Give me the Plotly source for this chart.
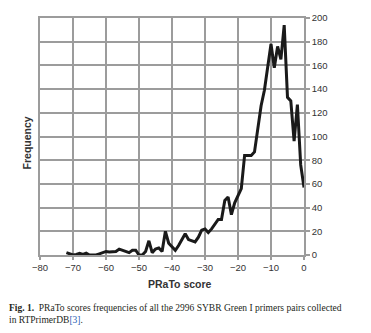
import plotly.graph_objects as go

scores = list(range(-72, 1))
frequency = [2, 1, 0, 0.5, 1.5, 0.5, 1.5, 0, 0, 0,
             1, 2, 3, 2.5, 2.5, 3, 5, 4, 2.5, 2,
             4, 4, 0, 0, 3, 12, 2, 5, 6, 3,
             20, 10, 7, 4, 8, 13, 18, 13, 12, 11,
             15, 21, 22, 19, 22, 26, 30, 30, 46, 49,
             34, 44, 50, 56, 84, 84, 84, 87, 108, 126,
             139, 160, 178, 158, 176, 165, 194, 133, 130, 96,
             127, 76, 57]
x_ticks = list(range(-80, 1, 10))
y_ticks = list(range(0, 201, 20))

W, H = 371, 333
L, R, T, B = 40, 67, 15, 78
pw, ph = W - L - R, H - T - B

def px(x):
    return (x - L) / pw

def py(y):
    return 1 - (y - T) / ph

grid = "#9c9c9c"

fig = go.Figure()
fig.add_trace(go.Scatter(x=scores, y=frequency, mode="lines",
                         line=dict(color="#1a1a1a", width=3), showlegend=False))

fig.update_layout(
    width=W, height=H,
    margin=dict(l=L, r=R, t=T, b=B),
    paper_bgcolor="white", plot_bgcolor="white",
    font=dict(family="Liberation Sans, Arial, sans-serif", size=9.5, color="#333333"),
    xaxis=dict(range=[-80, 0], tickvals=x_ticks, showgrid=True, gridcolor=grid, gridwidth=1.5,
               zeroline=False, showline=True, linecolor=grid, linewidth=1.5, mirror=True,
               ticks="outside", ticklen=3, tickcolor=grid, tickwidth=1.5,
               fixedrange=True),
    yaxis=dict(range=[0, 200], tickvals=y_ticks, side="right", showgrid=True, gridcolor=grid,
               gridwidth=1.5, zeroline=False, showline=True, linecolor=grid, linewidth=1.5, mirror=True,
               ticks="outside", ticklen=4, tickcolor=grid, tickwidth=1.5, fixedrange=True),
)

fig.add_annotation(text="<b>PRaTo score</b>", x=px(180), y=py(284), xref="paper", yref="paper",
                   showarrow=False, xanchor="center", yanchor="middle",
                   font=dict(size=10.5, color="#333333", family="Liberation Sans, Arial, sans-serif"))
fig.add_annotation(text="<b>Frequency</b>", x=px(27), y=py(142), xref="paper", yref="paper",
                   showarrow=False, xanchor="center", yanchor="middle", textangle=-90,
                   font=dict(size=10.5, color="#333333", family="Liberation Sans, Arial, sans-serif"))
fig.add_annotation(
    text="<b>Fig. 1.</b>  PRaTo scores frequencies of all the 2996 SYBR Green I primers pairs collected<br>"
         "in RTPrimerDB<span style='color:#2b5fb4'>[3]</span>.",
    x=px(7), y=py(302), xref="paper", yref="paper", showarrow=False,
    xanchor="left", yanchor="top", align="left",
    font=dict(size=9.5, color="#231f20", family="Liberation Serif, serif"))

fig.write_html("out.html")
